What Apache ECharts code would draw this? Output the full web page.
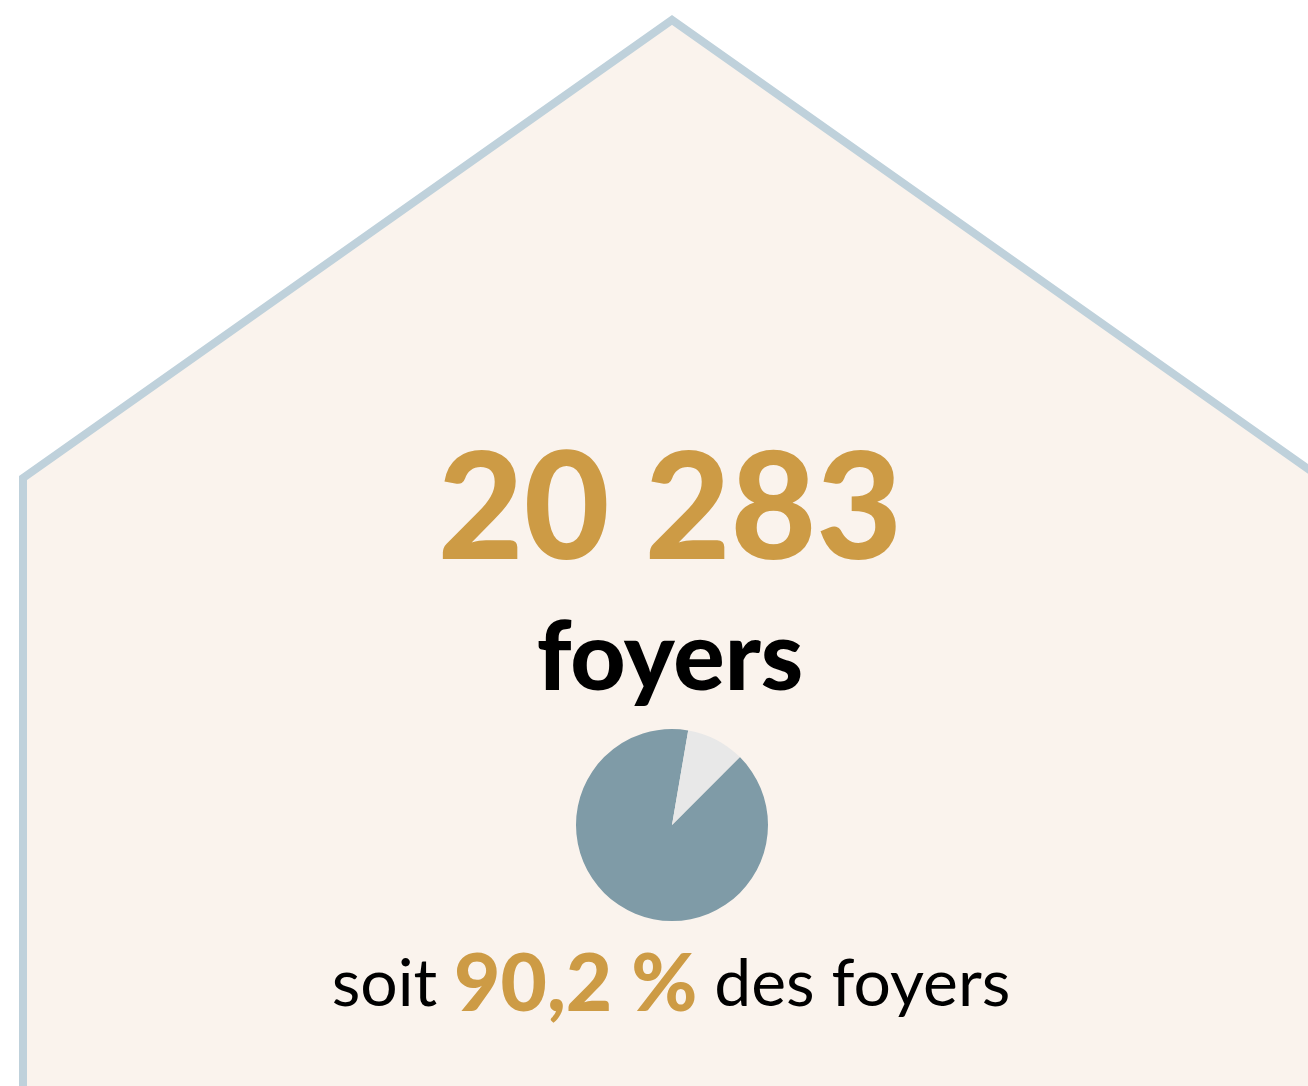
<!DOCTYPE html>
<html>
<head>
<meta charset="utf-8">
<script src="https://cdn.jsdelivr.net/npm/echarts@6/dist/echarts.min.js"></script>
<style>
  html, body { margin: 0; padding: 0; background: #fff; }
  #main { width: 1308px; height: 1086px; }
</style>
</head>
<body>
<div id="main"></div>
<script>
// données
const totalFoyers = '20 283'
const uniteLabel = 'foyers'
const partLabel = '90,2 %'
const partNames = ['concernés', 'autres']
const partValues = [90.2, 9.8]
const partColors = ['#7f9ba7', '#e8e8e8']

const gold = '#cd9b45'
const chart = echarts.init(document.getElementById('main'))

chart.setOption({
  backgroundColor: '#ffffff',
  animation: false,
  graphic: [
    {
      // contour de la maison
      type: 'polygon',
      z: 0,
      shape: {
        points: [[23, 1120], [23, 478], [672, 20], [1321, 478], [1321, 1120]]
      },
      style: {
        fill: '#faf3ed',
        stroke: '#bfd1db',
        lineWidth: 8,
        lineJoin: 'miter'
      }
    },
    {
      type: 'text',
      z: 10,
      x: 670,
      y: 437,
      style: {
        text: totalFoyers,
        fill: gold,
        font: '900 148px Lato',
        textAlign: 'center',
        textVerticalAlign: 'top'
      }
    },
    {
      type: 'text',
      z: 10,
      x: 670,
      y: 611,
      style: {
        text: uniteLabel,
        fill: '#000',
        font: '900 96px Lato',
        textAlign: 'center',
        textVerticalAlign: 'top'
      }
    },
    {
      type: 'text',
      z: 10,
      x: 671,
      y: 945,
      style: {
        text: '{a|soit }{b|' + partLabel + '}{a| des foyers}',
        textAlign: 'center',
        textVerticalAlign: 'top',
        rich: {
          a: { fontFamily: 'Lato', fontSize: 66, fontWeight: 400, fill: '#000', color: '#000' },
          b: { fontFamily: 'Lato', fontSize: 80, fontWeight: 900, fill: gold, color: gold }
        }
      }
    }
  ],
  series: [
    {
      type: 'pie',
      z: 5,
      center: [672, 825],
      radius: 96,
      startAngle: 45,
      clockwise: true,
      silent: true,
      label: { show: false },
      labelLine: { show: false },
      itemStyle: { borderWidth: 0 },
      data: partValues.map((v, i) => ({
        name: partNames[i],
        value: v,
        itemStyle: { color: partColors[i] }
      }))
    }
  ]
})
</script>
</body>
</html>
